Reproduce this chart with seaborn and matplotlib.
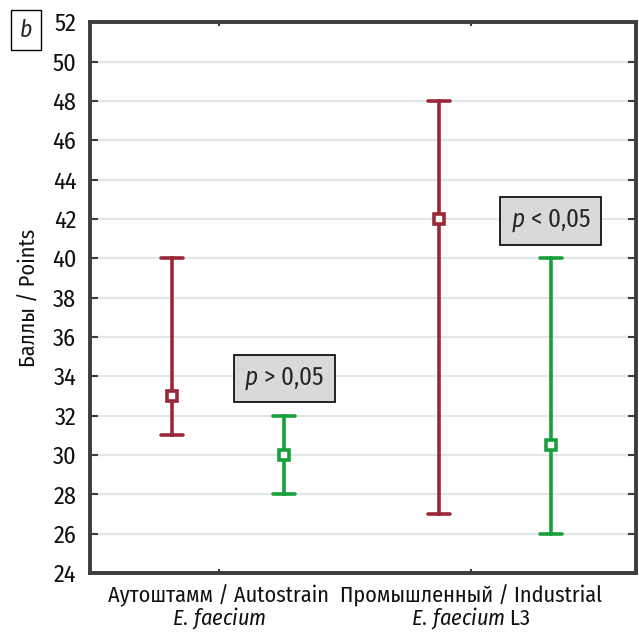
import pandas as pd
import matplotlib
matplotlib.use("Agg")
import matplotlib.pyplot as plt
import seaborn as sns

# values: median, min, max per group and strain
groups = ["Аутоштамм / Autostrain\n$\\mathit{E.\\,faecium}$",
          "Промышленный / Industrial\n$\\mathit{E.\\,faecium}$ L3"]
series = ["Группа A", "Группа B"]
median_a = [33, 42]
low_a = [31, 27]
high_a = [40, 48]
median_b = [30, 30.5]
low_b = [28, 26]
high_b = [32, 40]
p_labels = ["$\\mathit{p}$ > 0,05", "$\\mathit{p}$ < 0,05"]
yticks = list(range(24, 53, 2))

rows = []
for i, g in enumerate(groups):
    for s, med, lo, hi in [(series[0], median_a, low_a, high_a),
                           (series[1], median_b, low_b, high_b)]:
        for v in (lo[i], med[i], hi[i]):
            rows.append({"group": g, "series": s, "value": v})
df = pd.DataFrame(rows)

sns.set_style("white")
FONT = ["Fira Sans Condensed", "DejaVu Sans"]
plt.rcParams["font.family"] = FONT
plt.rcParams["mathtext.fontset"] = "custom"
plt.rcParams["mathtext.rm"] = "Fira Sans Condensed"
plt.rcParams["mathtext.it"] = "Fira Sans Condensed:italic"

fig = plt.figure(figsize=(6.39, 6.36), dpi=100)
ax = fig.add_axes([0.141, 0.099, 0.854, 0.866])

colors = ["#9b2838", "#17a03c"]
sns.pointplot(data=df, x="group", y="value", hue="series", order=groups,
              hue_order=series, palette=colors, estimator="median",
              errorbar=lambda v: (v.min(), v.max()), dodge=0.42,
              linestyle="none", markers="s", markersize=7.5,
              capsize=0.08, err_kws={"linewidth": 2.6}, legend=False, ax=ax)

for ln in ax.lines:
    if ln.get_marker() not in (None, "None", ""):
        ln.set_markerfacecolor("white")
        ln.set_markeredgewidth(2.6)
        ln.set_zorder(5)

ax.set_ylim(24, 52)
ax.set_xlim(-0.517, 1.528)
ax.set_yticks(yticks)
ax.yaxis.grid(True, color="#e2e8e8", linewidth=1.6)
ax.set_axisbelow(True)
for sp in ax.spines.values():
    sp.set_visible(True)
    sp.set_color("#3a3e3e")
    sp.set_linewidth(2.8)

ax.tick_params(axis="y", direction="in", left=True, right=True, length=6,
               width=1.5, color="#3a3e3e", labelsize=17.5, pad=10,
               labelcolor="#111111")
ax.tick_params(axis="x", direction="in", bottom=True, top=True, length=3,
               width=1.5, color="#3a3e3e", labelsize=16, pad=8,
               labelcolor="#111111")
# labels sit a little left of the group centres in the original
ax.set_xticks([-0.035, 0.91])
ax.set_xticklabels(groups, linespacing=0.95)
ax.set_xlabel("")
ax.set_ylabel("Баллы / Points", fontsize=16, labelpad=8, color="#111111")

# significance boxes above the green series
for i, txt in enumerate(p_labels):
    y = high_b[i] + 1.9
    ax.text(i + 0.21, y, txt, ha="center", va="center", fontsize=18,
            bbox={"boxstyle": "square,pad=0.42", "facecolor": "#d9d9d9",
                  "edgecolor": "black", "linewidth": 1.2}, zorder=6)

fig.text(0.04, 0.953, "$\\mathit{b}$", ha="center", va="center", fontsize=17,
         bbox={"boxstyle": "square,pad=0.35", "facecolor": "white",
               "edgecolor": "black", "linewidth": 1.0})

fig.savefig("out.png", dpi=100)
